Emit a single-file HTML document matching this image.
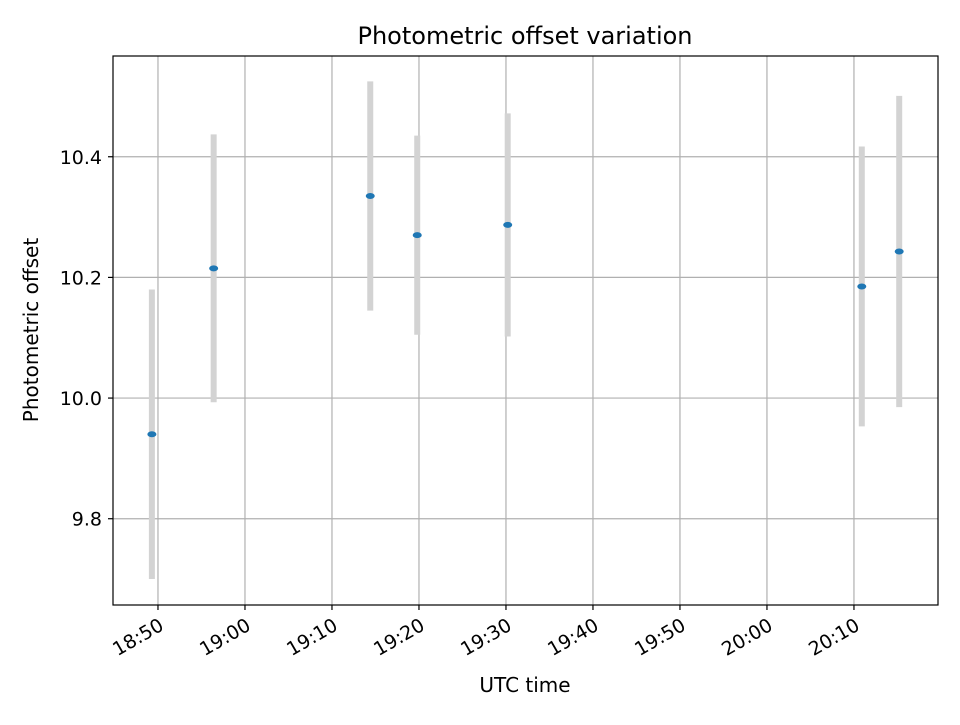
<!DOCTYPE html>
<html><head><meta charset="utf-8"><style>
html,body{margin:0;padding:0;background:#fff;}
svg text{font-family:"DejaVu Sans","Liberation Sans",sans-serif;fill:#000;}
</style></head><body>
<svg id="chart" width="960" height="720" xmlns="http://www.w3.org/2000/svg">
<rect x="0" y="0" width="960" height="720" fill="#fff"/>
<g id="grid"></g>
<g id="errs"></g>
<g id="pts"></g>
<rect x="113" y="56" width="825" height="549" fill="none" stroke="#000" stroke-width="1.2"/>
<g id="xt"></g>
<g id="yt"></g>
<text x="525" y="44" font-size="24" text-anchor="middle">Photometric offset variation</text>
<text x="525" y="692" font-size="20" text-anchor="middle">UTC time</text>
<text x="38" y="330" font-size="20" text-anchor="middle" transform="rotate(-90 38 330)">Photometric offset</text>
</svg>
<script>
const times = ["18:49.3","18:56.4","19:14.4","19:19.8","19:30.2","20:10.9","20:15.2"];
const offsets = [9.940,10.215,10.335,10.270,10.287,10.185,10.243];
const errors = [0.240,0.222,0.190,0.165,0.185,0.232,0.258];
const xTickLabels = ["18:50","19:00","19:10","19:20","19:30","19:40","19:50","20:00","20:10"];
const yTickValues = [9.8,10.0,10.2,10.4];

const NS="http://www.w3.org/2000/svg";
function toMin(s){const [h,m]=s.split(":");return parseInt(h)*60+parseFloat(m);}
const x0=toMin("18:44.83"),x1=toMin("20:19.66"),y0=9.657,y1=10.567;
const L=113,R=938,T=56,B=605;
function xs(s){return L+(toMin(s)-x0)/(x1-x0)*(R-L);}
function ys(v){return B-(v-y0)/(y1-y0)*(B-T);}
function mk(tag,a,p){const e=document.createElementNS(NS,tag);for(const k in a)e.setAttribute(k,a[k]);p.appendChild(e);return e;}
const grid=document.getElementById('grid'),xt=document.getElementById('xt'),yt=document.getElementById('yt');
xTickLabels.forEach(t=>{const x=xs(t);
 const g=mk('line',{x1:x,x2:x,y1:T,y2:B,stroke:'#b0b0b0','stroke-width':1.2},grid);
 
 const k=mk('line',{x1:x,x2:x,y1:B,y2:B+5,stroke:'#000','stroke-width':1.2},xt);
 
 const ax=x+7,ay=B+24;
 const tx=mk('text',{x:ax,y:ay,'font-size':19,'text-anchor':'end',transform:`rotate(-30 ${ax} ${ay})`},xt);
 tx.textContent=t;
});
yTickValues.forEach(v=>{const y=ys(v);
 const g=mk('line',{x1:L,x2:R,y1:y,y2:y,stroke:'#b0b0b0','stroke-width':1.2},grid);
 
 const k=mk('line',{x1:L-5,x2:L,y1:y,y2:y,stroke:'#000','stroke-width':1.2},yt);
 
 const tx=mk('text',{x:L-11,y:y+7,'font-size':19,'text-anchor':'end'},yt);
 tx.textContent=v.toFixed(1);
});
const errs=document.getElementById('errs'),pts=document.getElementById('pts');
times.forEach((t,i)=>{const x=xs(t);
 const e=mk('line',{x1:x,x2:x,y1:ys(offsets[i]+errors[i]),y2:ys(offsets[i]-errors[i]),stroke:'#d3d3d3','stroke-width':6},errs);
 
 const p=mk('ellipse',{cx:x,cy:ys(offsets[i]),rx:4.5,ry:3,fill:'#1f77b4'},pts);
 
});
</script>
</body></html>
